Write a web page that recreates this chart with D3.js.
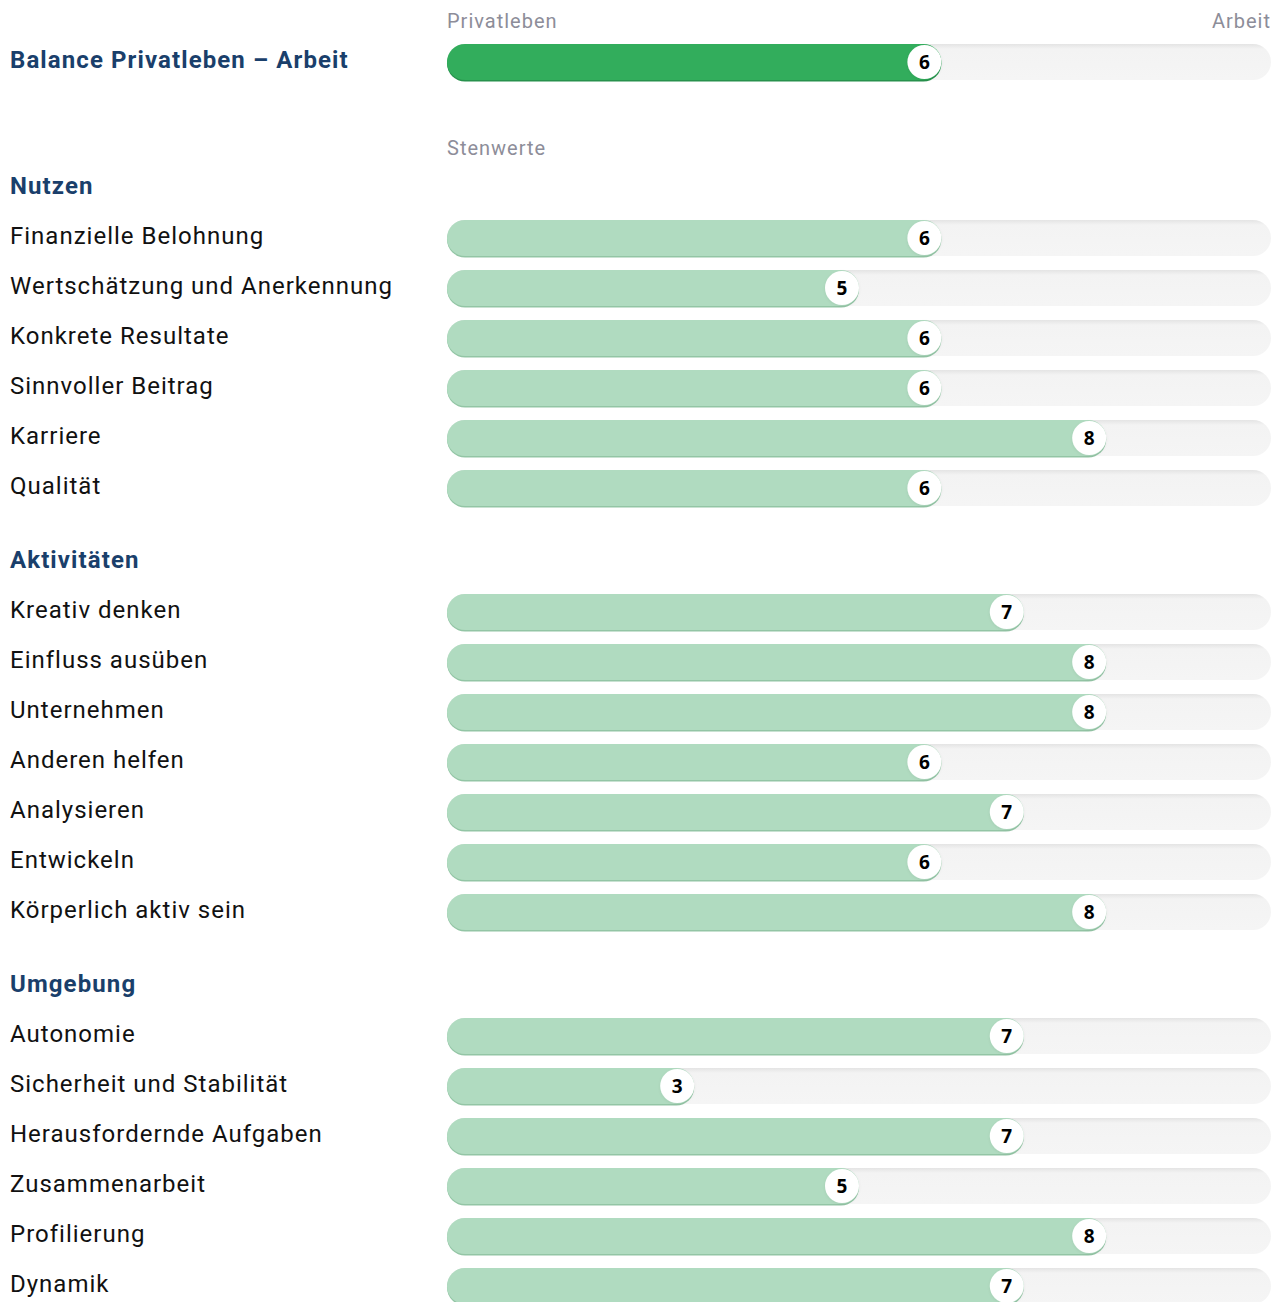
<!DOCTYPE html>
<html>
<head>
<meta charset="utf-8">
<script src="https://cdn.jsdelivr.net/npm/d3@7"></script>
<style>
  body { margin: 0; background: #fff; }
  .label { font-family: Roboto, sans-serif; font-size: 24px; letter-spacing: 1px; fill: #111; }
  .heading { font-family: Roboto, sans-serif; font-size: 24px; font-weight: bold; letter-spacing: 1.1px; fill: #1a3f6b; }
  .axisLabel { font-family: Roboto, sans-serif; font-size: 20px; letter-spacing: 1px; fill: #8d8d99; }
  .val { font-family: "Open Sans", Roboto, sans-serif; font-size: 19px; font-weight: bold; fill: #000; }
</style>
</head>
<body>
<div class="chart"></div>
<script>
// top balance row
var balanceLabel = "Balance Privatleben \u2013 Arbeit";
var balanceValue = 6;
var balanceEnds = ["Privatleben", "Arbeit"];
var scaleTitle = "Stenwerte";

var sections = ["Nutzen", "Aktivitäten", "Umgebung"];

var nutzenLabels = ["Finanzielle Belohnung", "Wertschätzung und Anerkennung", "Konkrete Resultate", "Sinnvoller Beitrag", "Karriere", "Qualität"];
var nutzenValues = [6, 5, 6, 6, 8, 6];

var aktivLabels = ["Kreativ denken", "Einfluss ausüben", "Unternehmen", "Anderen helfen", "Analysieren", "Entwickeln", "Körperlich aktiv sein"];
var aktivValues = [7, 8, 8, 6, 7, 6, 8];

var umgebungLabels = ["Autonomie", "Sicherheit und Stabilität", "Herausfordernde Aufgaben", "Zusammenarbeit", "Profilierung", "Dynamik"];
var umgebungValues = [7, 3, 7, 5, 8, 7];

var groups = [
    {title: sections[0], labels: nutzenLabels, values: nutzenValues},
    {title: sections[1], labels: aktivLabels, values: aktivValues},
    {title: sections[2], labels: umgebungLabels, values: umgebungValues}
];

var svgWidth = 1281, svgHeight = 1302;
var barLeft = 447, barRight = 1271, barH = 36, r = 17;
var rowStep = 50, groupGap = 74;

var svg = d3.select(".chart").append("svg")
    .attr("width", svgWidth)
    .attr("height", svgHeight);

var defs = svg.append("defs");

var trackGrad = defs.append("linearGradient")
    .attr("id", "trackGrad")
    .attr("x1", 0).attr("x2", 0).attr("y1", 0).attr("y2", 1);
trackGrad.append("stop").attr("offset", "0%").attr("stop-color", "#e4e4e4");
trackGrad.append("stop").attr("offset", "14%").attr("stop-color", "#f3f3f3");
trackGrad.append("stop").attr("offset", "100%").attr("stop-color", "#f5f5f5");

var shadow = defs.append("filter")
    .attr("id", "knobShadow")
    .attr("x", "-50%").attr("y", "-50%").attr("width", "200%").attr("height", "200%");
shadow.append("feDropShadow")
    .attr("dx", 0).attr("dy", 1)
    .attr("stdDeviation", 1.5)
    .attr("flood-color", "#000")
    .attr("flood-opacity", 0.07);

var xScale = d3.scaleLinear()
    .domain([0, 10])
    .range([0, barRight - barLeft]);

function drawBar(cy, value, fill, edge) {
    var g = svg.append("g")
        .attr("transform", "translate(" + barLeft + "," + (cy - barH / 2) + ")");

    g.append("rect")
        .attr("width", barRight - barLeft)
        .attr("height", barH)
        .attr("rx", barH / 2)
        .attr("fill", "url(#trackGrad)");

    // darker lower edge
    g.append("rect")
        .attr("y", 1.5)
        .attr("width", xScale(value))
        .attr("height", barH)
        .attr("rx", barH / 2)
        .attr("fill", edge);

    g.append("rect")
        .attr("width", xScale(value))
        .attr("height", barH)
        .attr("rx", barH / 2)
        .attr("fill", fill);

    g.append("circle")
        .attr("cx", xScale(value) - r)
        .attr("cy", barH / 2)
        .attr("r", r)
        .attr("fill", "#fff")
        .attr("filter", "url(#knobShadow)");

    g.append("text")
        .attr("class", "val")
        .attr("x", xScale(value) - r)
        .attr("y", barH / 2)
        .attr("dy", "0.36em")
        .attr("text-anchor", "middle")
        .text(value);
}

// Balance row
svg.append("text")
    .attr("class", "axisLabel")
    .attr("x", barLeft)
    .attr("y", 28)
    .text(balanceEnds[0]);

svg.append("text")
    .attr("class", "axisLabel")
    .attr("x", barRight)
    .attr("y", 28)
    .attr("text-anchor", "end")
    .text(balanceEnds[1]);

svg.append("text")
    .attr("class", "heading")
    .attr("x", 10)
    .attr("y", 68)
    .text(balanceLabel);

drawBar(62, balanceValue, "#32ad5c", "#27914c");

svg.append("text")
    .attr("class", "axisLabel")
    .attr("x", barLeft)
    .attr("y", 155)
    .text(scaleTitle);

// groups
var y = 186;
groups.forEach(function(grp) {
    svg.append("text")
        .attr("class", "heading")
        .attr("x", 10)
        .attr("y", y + 8)
        .text(grp.title);

    grp.labels.forEach(function(lab, i) {
        y += rowStep;
        svg.append("text")
            .attr("class", "label")
            .attr("x", 10)
            .attr("y", y + 8)
            .text(lab);
        drawBar(y + 2, grp.values[i], "#b0dbc0", "#93c5a5");
    });
    y += groupGap;
});
</script>
</body>
</html>
